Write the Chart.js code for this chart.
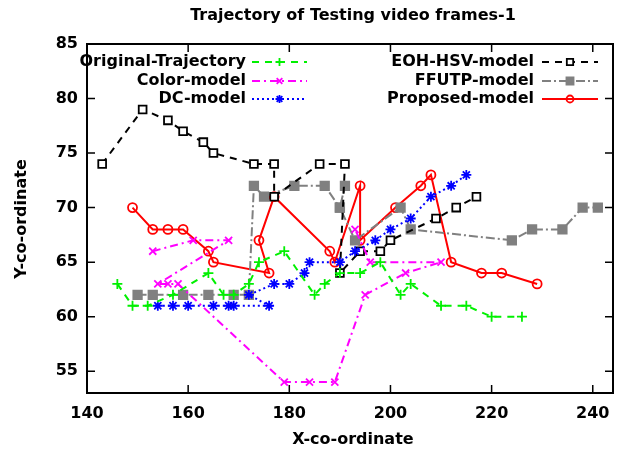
<!DOCTYPE html>
<html>
<head>
<meta charset="utf-8">
<script src="https://cdn.jsdelivr.net/npm/chart.js@4"></script>
<style>
  body { margin: 0; background: #fff; }
  #wrap { width: 627px; height: 454px; }
</style>
</head>
<body>
<div id="wrap"><canvas id="trajChart" width="627" height="454"></canvas></div>
<script>
// trajectory points
var origX = [146, 149, 152, 157, 164, 167, 169, 172, 174, 179, 185, 187, 190, 194, 198, 202, 204, 210, 215, 220, 226];
var origY = [63, 61, 61, 62, 64, 62, 62, 63, 65, 66, 62, 63, 64, 64, 65, 62, 63, 61, 61, 60, 60];

var colorX = [153, 161, 168, 154, 156, 158, 179, 184, 189, 195, 203, 210, 196, 193];
var colorY = [66, 67, 67, 63, 63, 63, 54, 54, 54, 62, 64, 65, 65, 68];

var dcX = [154, 157, 160, 165, 168, 169, 176, 172, 177, 180, 183, 184, 190, 193, 197, 200, 204, 208, 212, 215];
var dcY = [61, 61, 61, 61, 61, 61, 61, 62, 63, 63, 64, 65, 65, 66, 67, 68, 69, 71, 72, 73];

var eohX = [143, 151, 156, 159, 163, 165, 173, 177, 177, 186, 191, 190, 194, 198, 200, 209, 213, 217];
var eohY = [74, 79, 78, 77, 76, 75, 74, 74, 71, 74, 74, 64, 66, 66, 67, 69, 70, 71];

var ffutpX = [150, 153, 159, 164, 169, 172, 173, 175, 181, 187, 190, 191, 190, 193, 202, 204, 224, 228, 234, 238, 241];
var ffutpY = [62, 62, 62, 62, 62, 62, 72, 71, 72, 72, 70, 72, 70, 67, 70, 68, 67, 68, 68, 70, 70];

var propX = [149, 153, 156, 159, 164, 165, 176, 174, 177, 188, 189, 194, 194, 201, 206, 208, 212, 218, 222, 229];
var propY = [70, 68, 68, 68, 66, 65, 64, 67, 71, 66, 65, 72, 67, 70, 72, 73, 65, 64, 64, 63];

var seriesNames = ['Original-Trajectory', 'Color-model', 'DC-model', 'EOH-HSV-model', 'FFUTP-model', 'Proposed-model'];
var xTicks = [140, 160, 180, 200, 220, 240];
var yTicks = [55, 60, 65, 70, 75, 80, 85];

var FONT = 'DejaVu Sans';

function pts(xs, ys) {
    return xs.map(function(x, i) { return { x: x, y: ys[i] }; });
}

var styles = [
    { color: '#00f000', dash: [7, 6], point: 'cross', radius: 5, fill: '#00f000' },
    { color: '#ff00ff', dash: [8, 4, 2, 4], point: 'crossRot', radius: 5, fill: '#ff00ff' },
    { color: '#0000ff', dash: [2, 3], point: 'star', radius: 5, fill: '#0000ff' },
    { color: '#000000', dash: [7, 6], point: 'rect', radius: 5.5, fill: '#ffffff' },
    { color: '#808080', dash: [9, 3, 2, 3], point: 'rect', radius: 6, fill: '#808080' },
    { color: '#ff0000', dash: [], point: 'circle', radius: 4.5, fill: 'rgba(0,0,0,0)' }
];

var allData = [pts(origX, origY), pts(colorX, colorY), pts(dcX, dcY), pts(eohX, eohY), pts(ffutpX, ffutpY), pts(propX, propY)];

var datasets = allData.map(function(d, i) {
    var s = styles[i];
    return {
        label: seriesNames[i],
        data: d,
        showLine: true,
        borderColor: s.color,
        backgroundColor: s.fill,
        borderWidth: 2,
        borderDash: s.dash,
        pointStyle: s.point,
        pointRadius: s.radius,
        pointBorderWidth: 1.8,
        pointBorderColor: s.color,
        pointBackgroundColor: s.fill,
        tension: 0
    };
});

// border, inward ticks, titles and gnuplot style key
var framePlugin = {
    id: 'frame',
    afterDatasetsDraw: function(chart) {
        var ctx = chart.ctx;
        var a = chart.chartArea;
        var xs = chart.scales.x, ys = chart.scales.y;
        ctx.save();
        ctx.setLineDash([]);
        ctx.strokeStyle = '#000';
        ctx.lineWidth = 2;
        ctx.strokeRect(a.left, a.top, a.right - a.left, a.bottom - a.top);
        ctx.lineWidth = 1.5;
        ctx.beginPath();
        xTicks.forEach(function(v) {
            var px = xs.getPixelForValue(v);
            ctx.moveTo(px, a.bottom); ctx.lineTo(px, a.bottom - 8);
            ctx.moveTo(px, a.top); ctx.lineTo(px, a.top + 8);
        });
        yTicks.forEach(function(v) {
            var py = ys.getPixelForValue(v);
            ctx.moveTo(a.left, py); ctx.lineTo(a.left + 8, py);
            ctx.moveTo(a.right, py); ctx.lineTo(a.right - 8, py);
        });
        ctx.stroke();

        ctx.fillStyle = '#000';
        ctx.font = 'bold 16px "' + FONT + '"';
        ctx.textAlign = 'center';
        ctx.textBaseline = 'middle';
        ctx.fillText('Trajectory of Testing video frames-1', 353, 16);
        ctx.fillText('X-co-ordinate', 353, 440);
        ctx.save();
        ctx.translate(22, 219);
        ctx.rotate(-Math.PI / 2);
        ctx.fillText('Y-co-ordinate', 0, 0);
        ctx.restore();

        // key
        var rows = [62, 81, 99];
        var cols = [{ textRight: 246, s0: 252, s1: 307 }, { textRight: 534, s0: 542, s1: 598 }];
        chart.data.datasets.forEach(function(ds, i) {
            var c = cols[Math.floor(i / 3)];
            var y = rows[i % 3];
            ctx.fillStyle = '#000';
            ctx.textAlign = 'right';
            ctx.fillText(ds.label, c.textRight, y);
            ctx.strokeStyle = ds.borderColor;
            ctx.lineWidth = ds.borderWidth;
            ctx.setLineDash(ds.borderDash);
            ctx.beginPath();
            ctx.moveTo(c.s0, y); ctx.lineTo(c.s1, y);
            ctx.stroke();
            ctx.setLineDash([]);
            ctx.fillStyle = ds.pointBackgroundColor;
            ctx.lineWidth = ds.pointBorderWidth;
            Chart.helpers.drawPoint(ctx, {
                pointStyle: ds.pointStyle,
                radius: ds.pointRadius - 1,
                rotation: 0,
                borderWidth: ds.pointBorderWidth
            }, (c.s0 + c.s1) / 2, y);
        });
        ctx.restore();
    }
};

var config = {
    type: 'scatter',
    data: { datasets: datasets },
    options: {
        responsive: false,
        animation: false,
        layout: { padding: { top: 44, right: 14, left: 0, bottom: 0 } },
        plugins: { legend: { display: false }, tooltip: { enabled: false } },
        scales: {
            x: {
                type: 'linear',
                min: 140,
                max: 244,
                grid: { display: false, drawTicks: false },
                border: { display: false },
                ticks: { stepSize: 20, padding: 11, color: '#000', font: { family: FONT, size: 16, weight: 'bold' } },
                afterBuildTicks: function(scale) {
                    scale.ticks = xTicks.map(function(v) { return { value: v }; });
                },
                afterFit: function(scale) { scale.height = 61; }
            },
            y: {
                type: 'linear',
                min: 53,
                max: 85,
                grid: { display: false, drawTicks: false },
                border: { display: false },
                ticks: { stepSize: 5, padding: 9, color: '#000', font: { family: FONT, size: 16, weight: 'bold' } },
                afterBuildTicks: function(scale) {
                    scale.ticks = yTicks.map(function(v) { return { value: v }; });
                },
                afterFit: function(scale) { scale.width = 87; }
            }
        }
    },
    plugins: [framePlugin]
};

new Chart(document.getElementById('trajChart').getContext('2d'), config);
</script>
</body>
</html>
